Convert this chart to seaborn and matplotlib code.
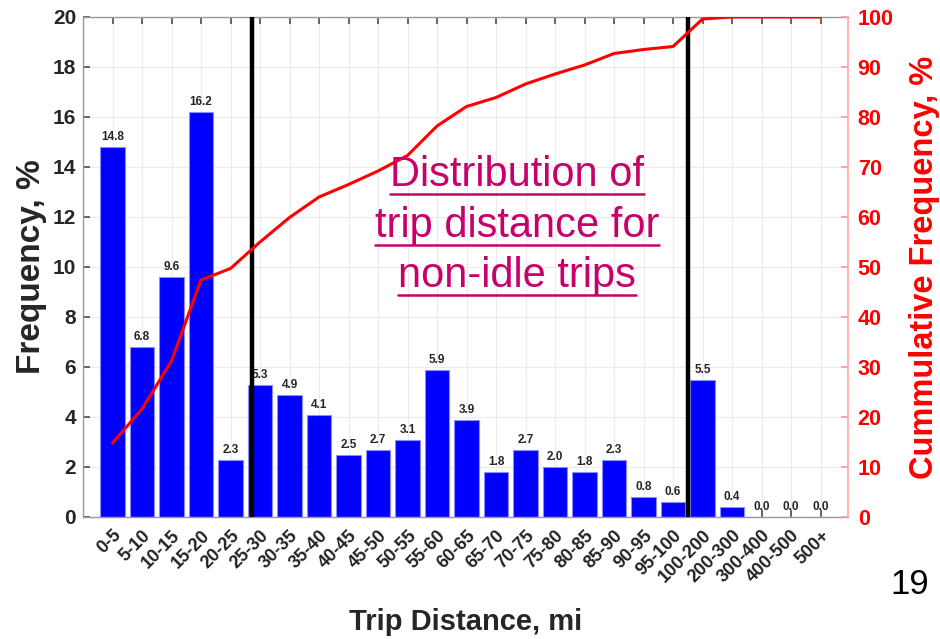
import numpy as np
import pandas as pd
import matplotlib
matplotlib.use("Agg")
import matplotlib.pyplot as plt
import seaborn as sns

categories = ["0-5", "5-10", "10-15", "15-20", "20-25", "25-30", "30-35", "35-40",
              "40-45", "45-50", "50-55", "55-60", "60-65", "65-70", "70-75", "75-80",
              "80-85", "85-90", "90-95", "95-100", "100-200", "200-300", "300-400",
              "400-500", "500+"]
frequency = [14.8, 6.8, 9.6, 16.2, 2.3, 5.3, 4.9, 4.1, 2.5, 2.7, 3.1, 5.9, 3.9,
             1.8, 2.7, 2.0, 1.8, 2.3, 0.8, 0.6, 5.5, 0.4, 0.0, 0.0, 0.0]
cumulative = [14.8, 21.6, 31.2, 47.4, 49.7, 55.0, 59.9, 64.0, 66.5, 69.2, 72.3,
              78.2, 82.1, 83.9, 86.6, 88.6, 90.4, 92.7, 93.5, 94.1, 99.6, 100.0,
              100.0, 100.0, 100.0]
vlines_at = [4.72, 19.5]

sns.set_theme(style="white")
plt.rcParams['font.family'] = ['Liberation Sans', 'DejaVu Sans']

df = pd.DataFrame({"cat": categories, "freq": frequency, "cum": cumulative})
df["pos"] = np.arange(len(df))

fig = plt.figure(figsize=(9.4, 6.39), dpi=100)
ax = fig.add_axes([83/940, 1-517/639, (848-83)/940, 500/639])

sns.barplot(data=df, x="cat", y="freq", color="#0000ff", saturation=1,
            width=0.82, edgecolor="#8c8cff", linewidth=0.8, ax=ax, zorder=2)
ax.set_xlim(-1, 24.93)
ax.set_ylim(0, 20)
ax.set_yticks(np.arange(0, 21, 2))
ax.set_xticks(np.arange(len(categories)))
ax.set_xticklabels(categories, rotation=45, ha="right", rotation_mode="anchor",
                   fontsize=13, fontweight="bold", color="#222222")
for lab in ax.get_yticklabels():
    lab.set_fontsize(15); lab.set_fontweight("bold"); lab.set_color("#262626")
ax.tick_params(axis="x", direction="in", length=5, top=True, bottom=True,
               pad=7, color="#555555")
ax.tick_params(axis="y", direction="in", length=5, left=True, right=False,
               color="#555555", pad=5)
ax.grid(True, color="#ebebeb", linewidth=0.8, zorder=0)
ax.set_axisbelow(True)
for s in ["left", "bottom", "top"]:
    ax.spines[s].set_color("#999999")
    ax.spines[s].set_linewidth(1.0)
ax.spines["right"].set_visible(False)

ax.set_xlabel("Trip Distance, mi", fontsize=21, fontweight="bold",
              color="#262626", labelpad=16)
ax.set_ylabel("Frequency, %", fontsize=24, fontweight="bold",
              color="#262626", labelpad=4)

for i, v in enumerate(frequency):
    ax.text(i, v + 0.15, f"{v:.1f}", ha="center", va="bottom", fontsize=8.5,
            fontweight="bold", color="#262626", zorder=4)

for xv in vlines_at:
    ax.axvline(xv, color="black", linewidth=3.2, zorder=5)

ax2 = ax.twinx()
sns.lineplot(data=df, x="pos", y="cum", color="#ff0000", linewidth=2.2,
             ax=ax2, zorder=6)
ax2.set_ylim(0, 100)
ax2.set_yticks(np.arange(0, 101, 10))
ax2.set_xlim(-1, 24.93)
for lab in ax2.get_yticklabels():
    lab.set_fontsize(15.5); lab.set_fontweight("bold"); lab.set_color("#ff0000")
ax2.tick_params(axis="y", direction="in", length=5, color="#ff9999", pad=7)
ax2.set_ylabel("Cummulative Frequency, %", fontsize=23.5, fontweight="bold",
               color="#ff0000", labelpad=11)
ax2.set_xlabel("")
for s in ["left", "bottom", "top"]:
    ax2.spines[s].set_visible(False)
ax2.spines["right"].set_color("#ffaaaa")
ax2.grid(False)

# Annotation with underlines
lines = ["Distribution of", "trip distance for", "non-idle trips"]
text_color = "#c8006a"
renderer = fig.canvas.get_renderer()
baselines = [186, 237, 287]
for txt, yb in zip(lines, baselines):
    t = fig.text(517/940, 1 - yb/639, txt, ha="center", va="baseline",
                 fontsize=30, color=text_color, family="Liberation Sans")
    bb = t.get_window_extent(renderer=renderer)
    y_ul = (1 - (yb + 8)/639)
    fig.add_artist(plt.Line2D([bb.x0/940, bb.x1/940], [y_ul, y_ul],
                              transform=fig.transFigure, color=text_color,
                              linewidth=1.8))

fig.text(910/940, 1 - 584/639, "19", ha="center", va="center", fontsize=25,
         color="black")

fig.savefig("out.png", dpi=100)
